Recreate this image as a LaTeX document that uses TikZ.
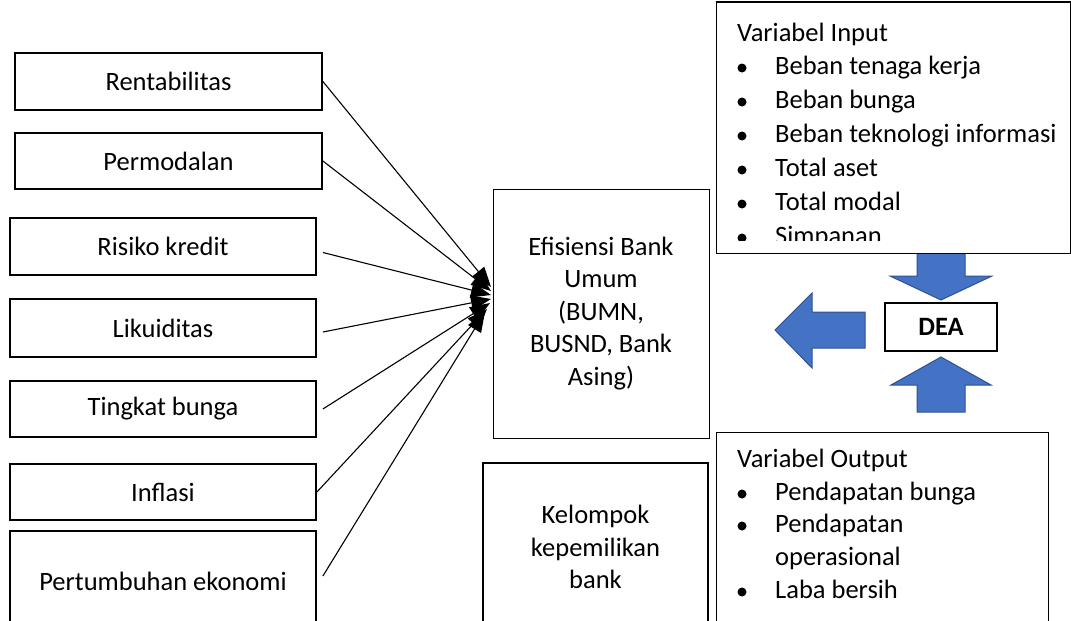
\documentclass[tikz,border=0pt]{standalone}
\usepackage{fontspec}
\setmainfont{Carlito}
\usetikzlibrary{arrows.meta}
\definecolor{deablue}{HTML}{4472C4}
\definecolor{deaedge}{HTML}{2F528F}
\tikzset{
  txt/.style={font=\fontsize{26.5}{32.5}\selectfont, inner sep=0pt},
  factor/.style={draw, line width=1.8pt, txt},
  panel/.style={draw, line width=1.2pt, inner sep=0pt},
  conn/.style={-{Triangle[length=20pt,width=15pt]}, line width=1.1pt},
  blockarrow/.style={fill=deablue, draw=deaedge, line width=1pt},
  dot/.style={circle, fill, inner sep=0pt, minimum size=9pt},
}
\begin{document}
\begin{tikzpicture}[x=1pt,y=-1pt]
\useasboundingbox (0,0) rectangle (1071,621);
\clip (0,0) rectangle (1071,621);

\node[factor, minimum width=307pt, minimum height=57pt] (rent) at (168.5,81.5) {Rentabilitas};
\node[factor, minimum width=307pt, minimum height=56pt] (modal) at (168.5,161) {Permodalan};
\node[factor, minimum width=306pt, minimum height=57pt] (risiko) at (163,246.5) {Risiko kredit};
\node[factor, minimum width=306pt, minimum height=58pt] (likuid) at (163,328) {Likuiditas};
\node[factor, minimum width=306pt, minimum height=56pt] (bunga) at (163,409) {Tingkat bunga};
\node[factor, minimum width=306pt, minimum height=56pt] (inflasi) at (163,492) {Inflasi};
\node[factor, minimum width=306pt, minimum height=100pt] (tumbuh) at (163,581) {Pertumbuhan ekonomi};

\node[panel, line width=1pt, txt, align=center, minimum width=216pt, minimum height=249pt] (efisiensi) at (601,313.5) {Efisiensi Bank\\Umum\\(BUMN,\\BUSND, Bank\\Asing)};
\node[panel, txt, align=center, minimum width=225pt, minimum height=168pt] (kelompok) at (595.5,547) {Kelompok\\kepemilikan\\bank};

\coordinate (t1) at (491,287);
\coordinate (t2) at (491,291);
\coordinate (t3) at (491,295);
\coordinate (t4) at (491,299);
\coordinate (t5) at (490,303);
\coordinate (t6) at (487,309);
\coordinate (t7) at (485,312);

\draw[conn] (rent.east) -- (t1);
\draw[conn] (modal.east) -- (t2);
\draw[conn] ([shift={(6,6)}]risiko.east) -- (t3);
\draw[conn] ([shift={(6,4)}]likuid.east) -- (t4);
\draw[conn] ([xshift=6pt]bunga.east) -- (t5);
\draw[conn] (inflasi.east) -- (t6);
\draw[conn] ([shift={(6,-5)}]tumbuh.east) -- (t7);

\draw[blockarrow] (917,253) -- (965,253) -- (965,276) -- (992,276) -- (941,300) -- (890,276) -- (917,276) -- cycle;
\draw[blockarrow] (941,357) -- (991,385) -- (965,385) -- (965,412) -- (917,412) -- (917,385) -- (891,385) -- cycle;
\draw[blockarrow] (775,330) -- (812,293) -- (812,312) -- (865,312) -- (865,348) -- (812,348) -- (812,368) -- cycle;

\node[panel, font=\bfseries\fontsize{26.5}{32.5}\selectfont, minimum width=112pt, minimum height=48pt] (dea) at (941,327) {DEA};

\node[panel, fill=white, minimum width=354pt, minimum height=251.5pt, anchor=north west] (input) at (716,1.5) {};
\node[txt, anchor=base west] (intitle) at (737,41) {Variabel Input};
\begin{scope}
  \clip (716,1.5) rectangle (1070,240);
  \foreach \entry [count=\i] in {Beban tenaga kerja, Beban bunga, Beban teknologi informasi, Total aset, Total modal, Simpanan} {
    \node[dot] (indot\i) at (742,34+34*\i) {};
    \node[txt, anchor=base west] (in\i) at (775,40+34*\i) {\entry};
  }
\end{scope}

\node[panel, minimum width=332pt, minimum height=220pt, anchor=north west] (output) at (716,432) {};
\node[txt, anchor=base west] (outtitle) at (737,467) {Variabel Output};
\node[dot] (outdot1) at (742,494) {};
\node[txt, anchor=base west] (out1) at (775,500) {Pendapatan bunga};
\node[dot] (outdot2) at (742,526) {};
\node[txt, anchor=base west] (out2) at (775,532) {Pendapatan};
\node[txt, anchor=base west] (out2b) at (775,565) {operasional};
\node[dot] (outdot3) at (742,592) {};
\node[txt, anchor=base west] (out3) at (775,598) {Laba bersih};

\end{tikzpicture}
\end{document}
